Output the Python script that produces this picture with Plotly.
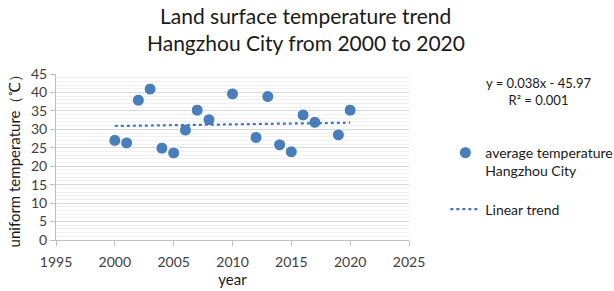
import plotly.graph_objects as go

years = [2000, 2001, 2002, 2003, 2004, 2005, 2006, 2007, 2008, 2010,
         2012, 2013, 2014, 2015, 2016, 2017, 2019, 2020]
temps = [27.0, 26.3, 37.9, 40.9, 24.9, 23.6, 29.8, 35.2, 32.6, 39.6,
         27.8, 38.9, 25.8, 23.9, 33.9, 31.9, 28.5, 35.2]
trend_x = [2000, 2020]
trend_y = [30.9, 31.8]

FONT = "Lato"
fig = go.Figure()
fig.add_trace(go.Scatter(
    x=years, y=temps, mode="markers", legendgroup="a",
    marker=dict(size=12, color="#4a7ebb", line=dict(color="#ffffff", width=1)),
    name="average temperature<br>Hangzhou City"))
fig.add_trace(go.Scatter(
    x=trend_x, y=trend_y, mode="lines", legendgroup="b",
    line=dict(color="#4472c4", width=2.2, dash="dot"),
    name="Linear trend"))

fig.update_layout(
    width=614, height=291,
    margin=dict(l=56, r=205, t=74, b=51, autoexpand=False),
    paper_bgcolor="white", plot_bgcolor="white",
    font=dict(family=FONT, color="#404040"),
    legend=dict(x=1.103, y=0.62, xanchor="left", yanchor="top", valign="top",
                traceorder="grouped", tracegroupgap=17,
                font=dict(size=14, color="#1a1a1a"),
                bgcolor="rgba(0,0,0,0)"),
    showlegend=True,
)
fig.update_xaxes(
    range=[1995, 2025], dtick=5, tick0=1995, automargin=False,
    showgrid=False, showline=True, linecolor="#bfbfbf", linewidth=1,
    ticks="outside", ticklen=5, tickcolor="#bfbfbf", ticklabelstandoff=4,
    tickfont=dict(size=14, color="#404040"),
    title=dict(text="year", font=dict(size=15, color="#1a1a1a"), standoff=4),
    zeroline=False)
fig.update_yaxes(
    range=[0, 45], dtick=5, tick0=0, automargin=False,
    showgrid=True, gridcolor="#d9d9d9", gridwidth=1,
    minor=dict(dtick=1, showgrid=True, gridcolor="#f0f0f0", gridwidth=1),
    showline=True, linecolor="#bfbfbf", linewidth=1,
    ticks="outside", ticklen=5, tickcolor="#bfbfbf",
    tickfont=dict(size=14, color="#404040"),
    title=dict(text="uniform temperature（℃）", font=dict(size=15, color="#1a1a1a"), standoff=6),
    zeroline=False)

def py(pix):
    return (240 - pix) / 166.0

def px(pix):
    return (pix - 56) / 353.0

fig.add_annotation(xref="paper", yref="paper", x=px(305), y=py(15),
                   text="Land surface temperature trend", showarrow=False,
                   xanchor="center", yanchor="middle",
                   font=dict(size=21, color="#1a1a1a", family=FONT))
fig.add_annotation(xref="paper", yref="paper", x=px(306), y=py(43),
                   text="Hangzhou City from 2000 to 2020", showarrow=False,
                   xanchor="center", yanchor="middle",
                   font=dict(size=21, color="#1a1a1a", family=FONT))
fig.add_annotation(xref="paper", yref="paper", x=px(538), y=py(91),
                   xanchor="center", yanchor="middle",
                   text="y = 0.038x - 45.97<br>R² = 0.001", showarrow=False, align="center",
                   font=dict(size=13, color="#1a1a1a"))

fig.write_html("out.html", config={"displayModeBar": False},
               post_script="document.body.style.margin='0';document.body.style.padding='0';")
